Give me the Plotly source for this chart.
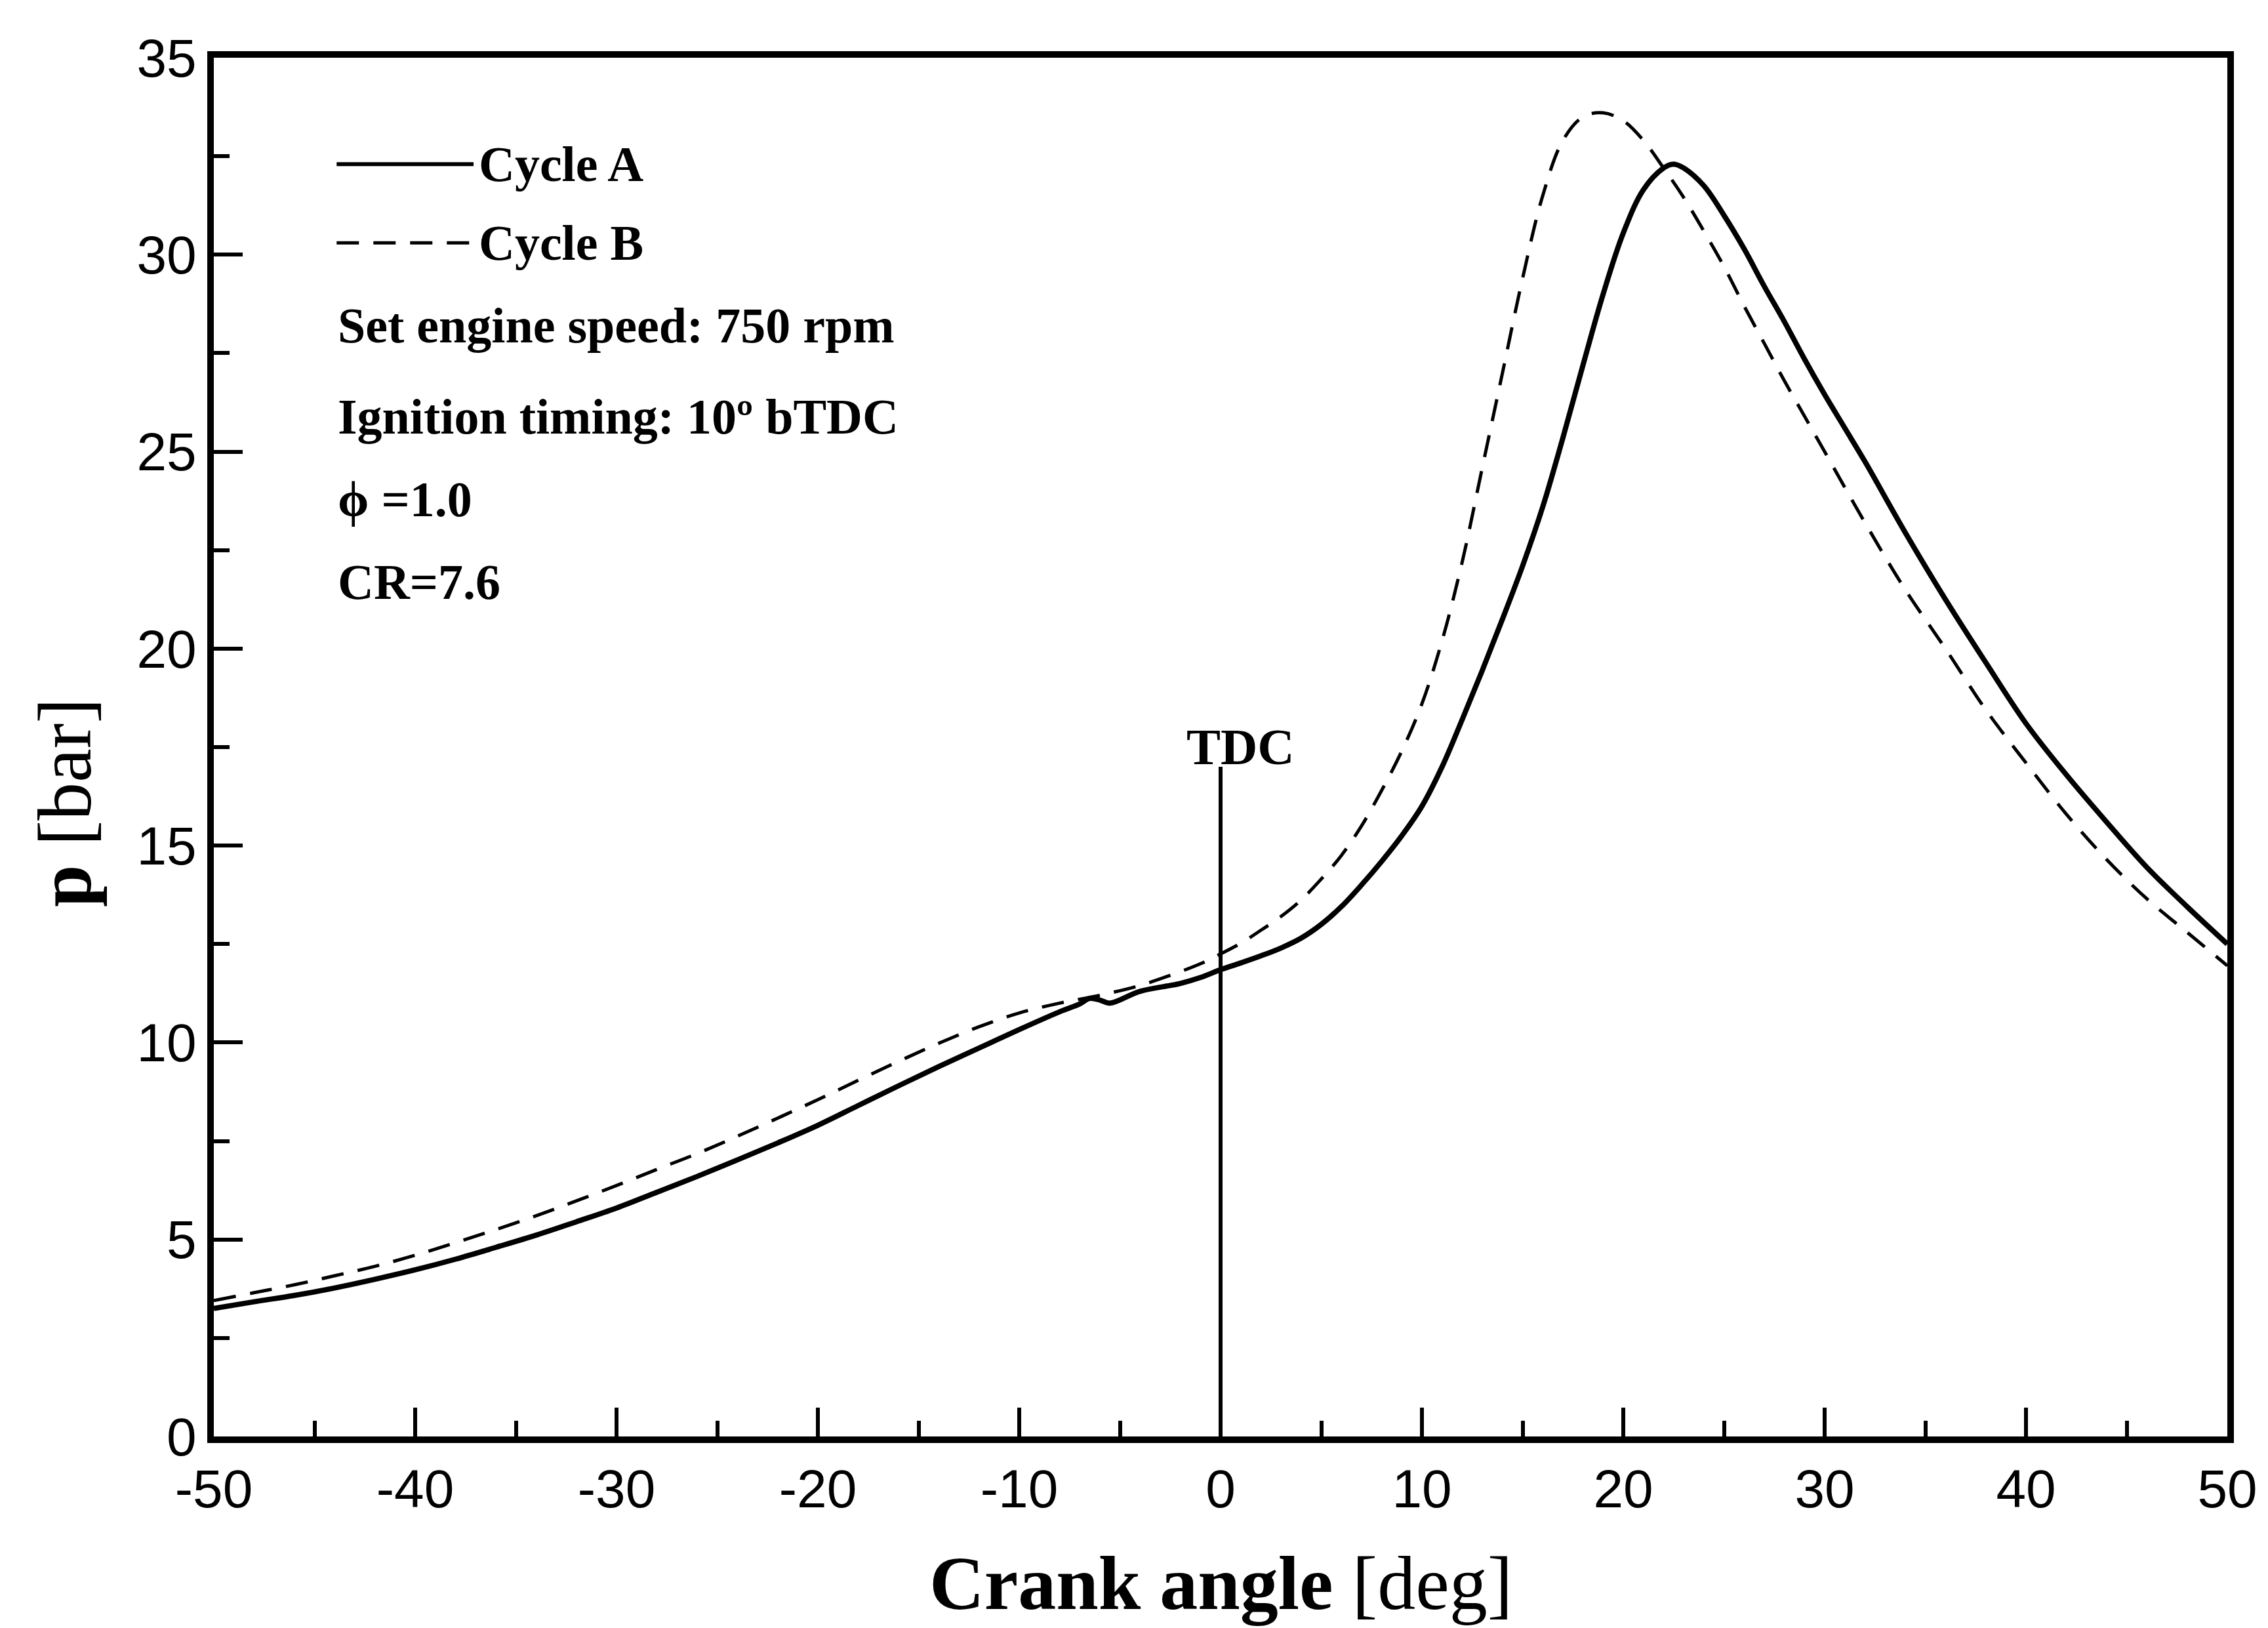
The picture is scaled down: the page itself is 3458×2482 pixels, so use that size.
import plotly.graph_objects as go

# Crank angle [deg] and cylinder pressure [bar] for the two cycles
angle_a = [-50, -48, -46, -44, -42, -40, -38, -36, -34, -32, -30, -28, -26, -24, -22,
           -20, -18, -16, -14, -12, -10, -8, -7, -6.5, -6, -5.5, -4, -2, -1, 0, 1, 2,
           3, 4, 5, 6, 7, 8, 9, 10, 11, 12, 13, 14, 15, 16, 17, 18, 19, 20, 21, 22,
           22.5, 23, 24, 25, 26, 27, 28, 29, 30, 31, 32, 34, 36, 38, 40, 42, 44, 46,
           48, 50]
pressure_a = [3.25, 3.42, 3.58, 3.77, 3.99, 4.23, 4.5, 4.8, 5.11, 5.45, 5.8, 6.2, 6.6,
              7.02, 7.45, 7.9, 8.4, 8.9, 9.39, 9.86, 10.33, 10.78, 10.98, 11.12, 11.08,
              11.0, 11.3, 11.5, 11.65, 11.85, 12.02, 12.2, 12.4, 12.65, 13.0, 13.45, 14.0,
              14.6, 15.25, 16.0, 17.0, 18.2, 19.45, 20.75, 22.1, 23.6, 25.35, 27.2, 29.0,
              30.55, 31.65, 32.2, 32.3, 32.2, 31.75, 31.0, 30.15, 29.2, 28.3, 27.35, 26.45,
              25.6, 24.75, 22.95, 21.25, 19.65, 18.1, 16.8, 15.6, 14.45, 13.45, 12.5]

angle_b = [-50, -48, -46, -44, -42, -40, -38, -36, -34, -32, -30, -28, -26, -24, -22,
           -20, -18, -16, -14, -12, -10, -8, -6, -4, -2, -1, 0, 1, 2, 3, 4, 5, 6, 7, 8,
           9, 10, 11, 12, 13, 14, 15, 16, 17, 18, 19, 20, 21, 22, 23, 24, 25, 26, 27,
           28, 29, 30, 32, 34, 36, 38, 40, 42, 44, 46, 48, 50]
pressure_b = [3.45, 3.65, 3.85, 4.08, 4.32, 4.6, 4.92, 5.25, 5.6, 5.98, 6.37, 6.78, 7.18,
              7.62, 8.08, 8.55, 9.04, 9.52, 9.98, 10.4, 10.75, 11.0, 11.2, 11.45, 11.8,
              12.0, 12.25, 12.52, 12.85, 13.2, 13.62, 14.15, 14.75, 15.5, 16.4, 17.4, 18.6,
              20.2, 22.2, 24.6, 27.0, 29.4, 31.5, 32.9, 33.5, 33.6, 33.4, 32.9, 32.2,
              31.45, 30.6, 29.7, 28.7, 27.75, 26.8, 25.9, 25.0, 23.2, 21.5, 20.0, 18.45,
              17.1, 15.8, 14.65, 13.65, 12.8, 11.95]

# top dead centre marker
tdc_angle = [0, 0]
tdc_pressure = [0, 17]

x_ticks = [-50, -40, -30, -20, -10, 0, 10, 20, 30, 40, 50]
y_ticks = [0, 5, 10, 15, 20, 25, 30, 35]

info_lines = ["Set engine speed: 750 rpm", "Ignition timing: 10º bTDC", "ϕ =1.0", "CR=7.6"]

SERIF = "Liberation Serif, Times New Roman, serif"
SANS = "Liberation Sans, Arial, sans-serif"
DASH = "34px,22px"

fig = go.Figure()
fig.add_trace(go.Scatter(x=angle_a, y=pressure_a, mode="lines",
                         line=dict(color="black", width=8, shape="spline", smoothing=1.0),
                         name="Cycle A"))
fig.add_trace(go.Scatter(x=angle_b, y=pressure_b, mode="lines",
                         line=dict(color="black", width=5, dash=DASH, shape="spline", smoothing=1.0),
                         name="Cycle B"))
fig.add_trace(go.Scatter(x=tdc_angle, y=tdc_pressure, mode="lines",
                         line=dict(color="black", width=6), name="TDC"))

# legend keys drawn as short sample lines
fig.add_shape(type="line", x0=-43.9, x1=-37.1, y0=32.3, y1=32.3, xref="x", yref="y",
              line=dict(color="black", width=6))
fig.add_shape(type="line", x0=-43.9, x1=-37.1, y0=30.3, y1=30.3, xref="x", yref="y",
              line=dict(color="black", width=5, dash=DASH))

ann = []
ann.append(dict(x=-36.9, y=32.3, text="<b>Cycle A</b>"))
ann.append(dict(x=-36.9, y=30.3, text="<b>Cycle B</b>"))
for yv, txt in zip([28.2, 25.9, 23.8, 21.7], info_lines):
    ann.append(dict(x=-43.9, y=yv, text="<b>" + txt + "</b>"))
annotations = []
for a in ann:
    annotations.append(dict(xref="x", yref="y", xanchor="left", yanchor="middle",
                            showarrow=False, font=dict(family=SERIF, size=76, color="black"), **a))

annotations.append(dict(x=1.0, y=16.75, xref="x", yref="y", xanchor="center", yanchor="bottom",
                        text="<b>TDC</b>", showarrow=False,
                        font=dict(family=SERIF, size=78, color="black")))
annotations.append(dict(x=0.5, y=-0.107, xref="paper", yref="paper", xanchor="center",
                        yanchor="middle", text="<b>Crank angle</b> [deg]", showarrow=False,
                        font=dict(family=SERIF, size=116, color="black")))
annotations.append(dict(x=-0.074, y=0.46, xref="paper", yref="paper", xanchor="center",
                        yanchor="middle", text="<b>p</b> [bar]", textangle=-90, showarrow=False,
                        font=dict(family=SERIF, size=116, color="black")))

fig.update_layout(
    width=3458, height=2482,
    margin=dict(l=326, r=62, t=88, b=292),
    paper_bgcolor="white", plot_bgcolor="white",
    showlegend=False,
    annotations=annotations,
)
fig.update_xaxes(range=[-50, 50], tickvals=x_ticks, ticktext=[str(v) for v in x_ticks],
                 ticks="inside", ticklen=44, tickwidth=6, tickcolor="black",
                 minor=dict(dtick=5, tick0=0, ticks="inside", ticklen=24, tickwidth=6,
                            tickcolor="black", showgrid=False),
                 showline=True, linewidth=10, linecolor="black", mirror=True,
                 showgrid=False, zeroline=False,
                 tickfont=dict(family=SANS, size=82, color="black"))
fig.update_yaxes(range=[0, 35], tickvals=y_ticks, ticktext=[str(v) for v in y_ticks],
                 ticks="inside", ticklen=44, tickwidth=6, tickcolor="black",
                 minor=dict(dtick=2.5, tick0=0, ticks="inside", ticklen=24, tickwidth=6,
                            tickcolor="black", showgrid=False),
                 showline=True, linewidth=10, linecolor="black", mirror=True,
                 showgrid=False, zeroline=False,
                 tickfont=dict(family=SANS, size=82, color="black"))

fig.write_html("out.html")
